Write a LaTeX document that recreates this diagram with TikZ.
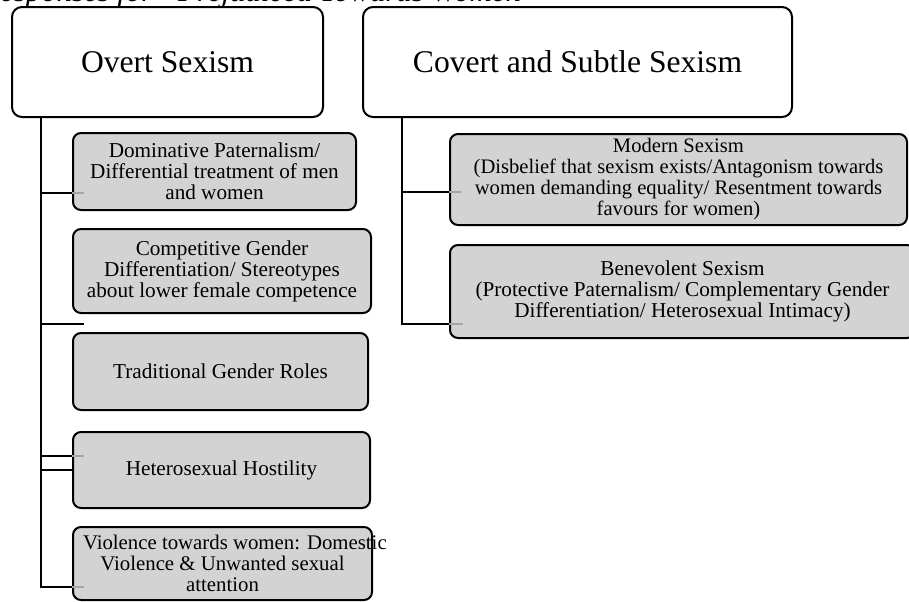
\documentclass[tikz,border=0pt]{standalone}
\usepackage{fontspec}
\setmainfont{Liberation Serif}
\usetikzlibrary{calc}
\definecolor{casegris}{RGB}{211,211,211}
\definecolor{talongris}{RGB}{165,165,165}

\begin{document}
\begin{tikzpicture}[x=0.5pt, y=-0.5pt,
  titre/.style={draw, line width=1pt, rounded corners=5pt, fill=white, inner sep=0pt, font=\fontsize{15.8}{18}\selectfont},
  case/.style={draw, line width=1pt, rounded corners=4pt, fill=casegris, inner sep=0pt, align=center, font=\fontsize{10.6}{10.5}\selectfont},
  lien/.style={line width=1.2pt},
  talon/.style={line width=0.8pt, color=talongris}]

\useasboundingbox (0,0) rectangle (909,601);
\clip (0,0) rectangle (909,601);

% legende
\node[anchor=base west, inner sep=0pt, font=\itshape\fontsize{15.4}{18}\selectfont] (legende) at (-19,1.5) {Responses for “Prejudiced Towards Women”};

% titres
\node[titre, minimum width=155.5pt, minimum height=55pt] (overt) at (167.5,62) {Overt Sexism};
\node[titre, minimum width=214.5pt, minimum height=55pt] (covert) at (577.5,62) {Covert and Subtle Sexism};

% cases gauche
\node[case, minimum width=141.5pt, minimum height=38.5pt] (domin) at (214.5,171.5) {Dominative Paternalism/\\Differential treatment of men\\and women};
\node[case, minimum width=149pt, minimum height=42pt] (compet) at (222,271) {Competitive Gender\\Differentiation/ Stereotypes\\about lower female competence};
\node[case, minimum width=147.5pt, minimum height=38.5pt] (tradit) at (220.5,371.5) {Traditional Gender Roles};
\node[case, minimum width=148.5pt, minimum height=38pt] (hetero) at (221.5,470) {Heterosexual Hostility};
\node[case, minimum width=149.5pt, minimum height=36.5pt, font=\fontsize{10.4}{10.5}\selectfont] (violen) at (222.5,563.5) {\makebox[139.5pt][l]{Violence towards women: Domestic}\\Violence \& Unwanted sexual\\attention};

% cases droite
\node[case, minimum width=228.5pt, minimum height=45.5pt, font=\fontsize{10.3}{10.5}\selectfont] (modern) at (678.5,179.5) {Modern Sexism\\(Disbelief that sexism exists/Antagonism towards\\women demanding equality/ Resentment towards\\favours for women)};
\node[case, minimum width=232.5pt, minimum height=46.5pt] (benev) at (682.5,291.5) {Benevolent Sexism\\(Protective Paternalism/ Complementary Gender\\Differentiation/ Heterosexual Intimacy)};

% liaisons gauche
\coordinate (ga) at ($(overt.south west)+(30,0)$);
\coordinate (g1) at ($(domin.south west)+(0,-18)$);
\coordinate (g2) at ($(compet.south west)+(12,10)$);
\coordinate (g3) at ($(hetero.west)+(0,-14)$);
\coordinate (g4) at (hetero.west);
\coordinate (g5) at ($(violen.south west)+(0,-14)$);
\draw[lien] (ga) |- (g1);
\draw[lien] (ga) |- (g2);
\draw[lien] (ga) |- (g3);
\draw[lien] (ga) |- (g4);
\draw[lien] (ga) |- (g5);
\draw[talon] (g1) -- ++(12,0);
\draw[talon] (g3) -- ++(12,0);
\draw[talon] (g5) -- ++(12,0);

% liaisons droite
\coordinate (da) at ($(covert.south west)+(40,0)$);
\coordinate (d1) at ($(modern.west)+(0,12.5)$);
\coordinate (d2) at ($(benev.south west)+(0,-15)$);
\draw[lien] (da) |- (d1);
\draw[lien] (da) |- (d2);
\draw[talon] (d1) -- ++(12,0);
\draw[talon] (d2) -- ++(14,0);

\end{tikzpicture}
\end{document}
